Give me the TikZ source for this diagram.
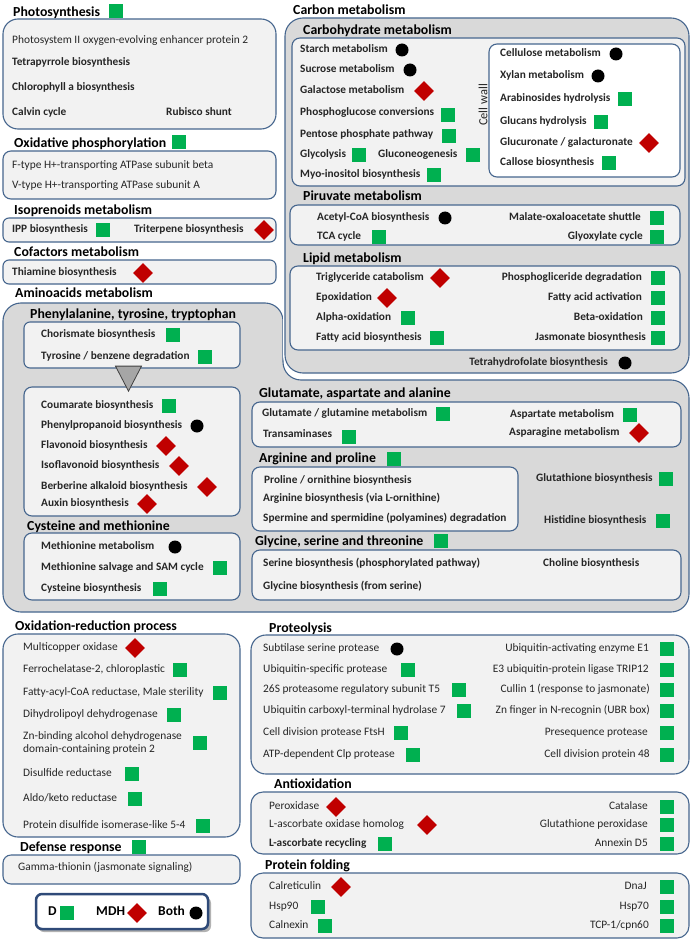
\documentclass[tikz,border=0pt]{standalone}
\usepackage{fontspec}
\setmainfont{Carlito}
\usetikzlibrary{shapes.geometric}
\definecolor{mygreen}{HTML}{00B050}
\definecolor{myred}{HTML}{C00000}
\definecolor{bord}{HTML}{46668E}
\definecolor{fillA}{HTML}{F2F2F2}
\definecolor{fillB}{HTML}{D9D9D9}
\definecolor{txt}{HTML}{262626}
\definecolor{legb}{HTML}{2F4A78}
\tikzset{
  item/.style={font=\fontsize{11.4}{13}\selectfont, inner sep=0pt, anchor=mid west, text=txt},
  bitem/.style={item, font=\fontsize{11.3}{13}\selectfont\bfseries},
  ritem/.style={item, anchor=mid east},
  rbitem/.style={bitem, anchor=mid east},
  head/.style={font=\fontsize{13.8}{16}\selectfont\bfseries, inner sep=0pt, anchor=mid west, text=black},
  leg/.style={bitem, font=\fontsize{13.5}{15}\selectfont\bfseries, text=black},
  gsq/.style={rectangle, fill=mygreen, minimum size=14pt, inner sep=0pt},
  rdia/.style={diamond, fill=myred, minimum size=20pt, inner sep=0pt},
  bdot/.style={circle, fill=black, minimum size=13pt, inner sep=0pt},
  boxA/.style={draw=bord, fill=fillA, line width=1.1pt},
  boxW/.style={draw=bord, fill=white, line width=1.1pt},
  boxO/.style={draw=bord, fill=fillB, line width=1.1pt, preaction={draw=white, line width=4pt}},
}
\begin{document}
\begin{tikzpicture}[x=1pt,y=-1pt]
\useasboundingbox (0,0) rectangle (696,941);
\fill[white] (0,0) rectangle (696,941);

% ---------------- Photosynthesis
\node[head] (hph) at (13,14) {Photosynthesis};
\node[gsq] (mph) at (115.5,11) {};
\draw[boxA, rounded corners=15pt] (3,19) rectangle (276,129);
\node[item] (ph1) at (12,41) {Photosystem II oxygen-evolving enhancer protein 2};
\node[bitem] (ph2) at (12,63) {Tetrapyrrole biosynthesis};
\node[bitem] (ph3) at (12,88) {Chlorophyll a biosynthesis};
\node[bitem] (ph4) at (12,113) {Calvin cycle};
\node[bitem] (ph5) at (166,113) {Rubisco shunt};

% ---------------- Oxidative phosphorylation
\node[head] (hox) at (14,145) {Oxidative phosphorylation};
\node[gsq] (mox) at (178.5,142) {};
\draw[boxA, rounded corners=8pt] (3,151) rectangle (276,199);
\node[item] (ox1) at (12,166) {F-type H+-transporting ATPase subunit beta};
\node[item] (ox2) at (12,186) {V-type H+-transporting ATPase subunit A};

% ---------------- Isoprenoids
\node[head] (hiso) at (14,212) {Isoprenoids metabolism};
\draw[boxA, rounded corners=6pt] (3,218) rectangle (276,242);
\node[bitem] (iso1) at (12,230) {IPP biosynthesis};
\node[gsq] (miso1) at (103,230) {};
\node[bitem] (iso2) at (134,230) {Triterpene biosynthesis};
\node[rdia] (miso2) at (264,230) {};

% ---------------- Cofactors
\node[head] (hcof) at (14,254) {Cofactors metabolism};
\draw[boxA, rounded corners=6pt] (3,260) rectangle (276,284);
\node[bitem] (cof1) at (12,273) {Thiamine biosynthesis};
\node[rdia] (mcof1) at (143,273) {};

% ---------------- Aminoacids metabolism (outline)
\node[head] (haa) at (15,295) {Aminoacids metabolism};
\draw[boxO, rounded corners=18pt] (3,612) -- (3,303) -- (283,303) -- (283,380) -- (689,380) -- (689,612) -- cycle;

% ---------------- Carbon metabolism
\node[head] (hcm) at (293,12) {Carbon metabolism};
\draw[boxO, rounded corners=18pt] (285,18) rectangle (689,373);

\node[head] (hch) at (303,32) {Carbohydrate metabolism};
\draw[boxA, rounded corners=8pt] (292,38) rectangle (685,186);
\node[bitem] (ch1) at (300,50) {Starch metabolism};
\node[bdot] (mch1) at (402,50) {};
\node[bitem] (ch2) at (300,70) {Sucrose metabolism};
\node[bdot] (mch2) at (410,70) {};
\node[bitem] (ch3) at (300,91) {Galactose metabolism};
\node[rdia] (mch3) at (424,91) {};
\node[bitem] (ch4) at (300,113) {Phosphoglucose conversions};
\node[gsq] (mch4) at (448,115) {};
\node[bitem] (ch5) at (300,135) {Pentose phosphate pathway};
\node[gsq] (mch5) at (449,136) {};
\node[bitem] (ch6) at (300,155) {Glycolysis};
\node[gsq] (mch6) at (359,155) {};
\node[bitem] (ch7) at (378,155) {Gluconeogenesis};
\node[gsq] (mch7) at (473,155) {};
\node[bitem] (ch8) at (300,175) {Myo-inositol biosynthesis};
\node[gsq] (mch8) at (434,175) {};
\node[font=\fontsize{12.5}{14}\selectfont, text=txt, rotate=90, inner sep=0pt] (cw) at (483,105) {Cell wall};
\draw[boxW, rounded corners=8pt] (489,44) rectangle (680,177);
\node[bitem] (cw1) at (500,54) {Cellulose metabolism};
\node[bdot] (mcw1) at (616,54) {};
\node[bitem] (cw2) at (500,76) {Xylan metabolism};
\node[bdot] (mcw2) at (598,76) {};
\node[bitem] (cw3) at (500,99) {Arabinosides hydrolysis};
\node[gsq] (mcw3) at (625,99) {};
\node[bitem] (cw4) at (500,122) {Glucans hydrolysis};
\node[gsq] (mcw4) at (601,122) {};
\node[bitem] (cw5) at (500,143) {Glucuronate / galacturonate};
\node[rdia] (mcw5) at (649,143) {};
\node[bitem] (cw6) at (500,163) {Callose biosynthesis};
\node[gsq] (mcw6) at (609,163) {};

\node[head] (hpy) at (303,198) {Piruvate metabolism};
\draw[boxA, rounded corners=8pt] (290,205) rectangle (680,245);
\node[bitem] (py1) at (317,218) {Acetyl-CoA biosynthesis};
\node[bdot] (mpy1) at (445,218) {};
\node[bitem] (py2) at (317,237) {TCA cycle};
\node[gsq] (mpy2) at (379,237) {};
\node[rbitem] (py3) at (641,218) {Malate-oxaloacetate shuttle};
\node[gsq] (mpy3) at (657,218) {};
\node[rbitem] (py4) at (643,237) {Glyoxylate cycle};
\node[gsq] (mpy4) at (657,237) {};

\node[head] (hli) at (303,260) {Lipid metabolism};
\draw[boxA, rounded corners=8pt] (290,266) rectangle (680,350);
\node[bitem] (li1) at (316,278) {Triglyceride catabolism};
\node[rdia] (mli1) at (440,278) {};
\node[bitem] (li2) at (316,298) {Epoxidation};
\node[rdia] (mli2) at (387,298) {};
\node[bitem] (li3) at (316,318) {Alpha-oxidation};
\node[gsq] (mli3) at (408,318) {};
\node[bitem] (li4) at (316,338) {Fatty acid biosynthesis};
\node[gsq] (mli4) at (437,338) {};
\node[rbitem] (li5) at (642,278) {Phosphogliceride degradation};
\node[gsq] (mli5) at (658,278) {};
\node[rbitem] (li6) at (642,298) {Fatty acid activation};
\node[gsq] (mli6) at (658,298) {};
\node[rbitem] (li7) at (643,318) {Beta-oxidation};
\node[gsq] (mli7) at (658,318) {};
\node[rbitem] (li8) at (646,338) {Jasmonate biosynthesis};
\node[gsq] (mli8) at (658,338) {};
\node[rbitem] (thf) at (608,363) {Tetrahydrofolate biosynthesis};
\node[bdot] (mthf) at (625,363) {};

% ---------------- Aminoacids inner
\node[head] (hphe) at (30,316) {Phenylalanine, tyrosine, tryptophan};
\draw[boxA, rounded corners=6pt] (24,322) rectangle (240,368);
\node[bitem] (phe1) at (41,335) {Chorismate biosynthesis};
\node[gsq] (mphe1) at (173,335) {};
\node[bitem] (phe2) at (41,357) {Tyrosine / benzene degradation};
\node[gsq] (mphe2) at (205,357) {};
\draw[boxA, rounded corners=8pt] (24,387) rectangle (240,516);
\node[draw=black!75, fill=black!35, line width=0.8pt, isosceles triangle, isosceles triangle apex angle=55, shape border rotate=-90, minimum width=26pt, minimum height=25pt, inner sep=0pt, anchor=apex] (tri) at (128.5,392) {};
\node[bitem] (phe3) at (41,406) {Coumarate biosynthesis};
\node[gsq] (mphe3) at (169,406) {};
\node[bitem] (phe4) at (41,426) {Phenylpropanoid biosynthesis};
\node[bdot] (mphe4) at (197,426) {};
\node[bitem] (phe5) at (41,446) {Flavonoid biosynthesis};
\node[rdia] (mphe5) at (166,446) {};
\node[bitem] (phe6) at (41,466) {Isoflavonoid biosynthesis};
\node[rdia] (mphe6) at (179,466) {};
\node[bitem] (phe7) at (41,487) {Berberine alkaloid biosynthesis};
\node[rdia] (mphe7) at (207,487) {};
\node[bitem] (phe8) at (41,504) {Auxin biosynthesis};
\node[rdia] (mphe8) at (147,504) {};

\node[head] (hcy) at (27,528) {Cysteine and methionine};
\draw[boxA, rounded corners=8pt] (24,533) rectangle (240,600);
\node[bitem] (cy1) at (41,547) {Methionine metabolism};
\node[bdot] (mcy1) at (175,547) {};
\node[bitem] (cy2) at (41,568) {Methionine salvage and SAM cycle};
\node[gsq] (mcy2) at (220,568) {};
\node[bitem] (cy3) at (41,589) {Cysteine biosynthesis};
\node[gsq] (mcy3) at (160,589) {};

\node[head] (hgl) at (259,395) {Glutamate, aspartate and alanine};
\draw[boxA, rounded corners=8pt] (252,402) rectangle (681,447);
\node[bitem] (gl1) at (262,414) {Glutamate / glutamine metabolism};
\node[gsq] (mgl1) at (443,414) {};
\node[bitem] (gl2) at (263,435) {Transaminases};
\node[gsq] (mgl2) at (349,437) {};
\node[bitem] (gl3) at (510,415) {Aspartate metabolism};
\node[gsq] (mgl3) at (630,415) {};
\node[bitem] (gl4) at (509,433) {Asparagine metabolism};
\node[rdia] (mgl4) at (639,433) {};

\node[head] (har) at (259,460) {Arginine and proline};
\node[gsq] (mar) at (394,459) {};
\draw[boxA, rounded corners=8pt] (252,467) rectangle (518,531);
\node[bitem] (ar1) at (264,481) {Proline / ornithine biosynthesis};
\node[bitem] (ar2) at (263,499) {Arginine biosynthesis (via L-ornithine)};
\node[bitem] (ar3) at (263,519) {Spermine and spermidine (polyamines) degradation};
\node[bitem] (gt1) at (536,479) {Glutathione biosynthesis};
\node[gsq] (mgt1) at (666,479) {};
\node[bitem] (hi1) at (544,521) {Histidine biosynthesis};
\node[gsq] (mhi1) at (663,521) {};

\node[head] (hgs) at (255,543) {Glycine, serine and threonine};
\node[gsq] (mgs) at (441,541) {};
\draw[boxA, rounded corners=8pt] (252,550) rectangle (681,600);
\node[bitem] (gs1) at (263,564) {Serine biosynthesis (phosphorylated pathway)};
\node[bitem] (gs2) at (543,564) {Choline biosynthesis};
\node[bitem] (gs3) at (263,587) {Glycine biosynthesis (from serine)};

% ---------------- Oxidation-reduction
\node[head] (hor) at (15,628) {Oxidation-reduction process};
\draw[boxA, rounded corners=15pt] (3,634) rectangle (240,837);
\node[item] (or1) at (23,648) {Multicopper oxidase};
\node[rdia] (mor1) at (135,648) {};
\node[item] (or2) at (23,670) {Ferrochelatase-2, chloroplastic};
\node[gsq] (mor2) at (180,670) {};
\node[item] (or3) at (23,693) {Fatty-acyl-CoA reductase, Male sterility};
\node[gsq] (mor3) at (220,693) {};
\node[item] (or4) at (23,715) {Dihydrolipoyl dehydrogenase};
\node[gsq] (mor4) at (174,715) {};
\node[item, font=\fontsize{11.4}{13}\selectfont, align=left, anchor=west] (or5) at (23,743) {Zn-binding alcohol dehydrogenase\\domain-containing protein 2};
\node[gsq] (mor5) at (200,743) {};
\node[item] (or6) at (23,774) {Disulfide reductase};
\node[gsq] (mor6) at (132,774) {};
\node[item] (or7) at (23,799) {Aldo/keto reductase};
\node[gsq] (mor7) at (135,799) {};
\node[item] (or8) at (23,826) {Protein disulfide isomerase-like 5-4};
\node[gsq] (mor8) at (203,826) {};

% ---------------- Defense response
\node[head] (hdf) at (20,849) {Defense response};
\node[gsq] (mdf) at (139,847) {};
\draw[boxA, rounded corners=8pt] (3,855) rectangle (240,884);
\node[item] (df1) at (18,868) {Gamma-thionin (jasmonate signaling)};

% ---------------- Legend
\fill[black!30, rounded corners=6pt] (38,897) rectangle (211,932);
\draw[draw=legb, fill=white, line width=2.5pt, rounded corners=6pt] (36,894) rectangle (208,929);
\node[leg] (lgD) at (48,913) {D};
\node[gsq] (mlgD) at (67,913) {};
\node[leg] (lgM) at (96,913) {MDH};
\node[rdia] (mlgM) at (137,913) {};
\node[leg] (lgB) at (158,913) {Both};
\node[bdot] (mlgB) at (196,913) {};

% ---------------- Proteolysis
\node[head] (hpr) at (269,630) {Proteolysis};
\draw[boxA, rounded corners=15pt] (251,635) rectangle (689,774);
\node[item] (pr1) at (263,649) {Subtilase serine protease};
\node[bdot] (mpr1) at (397,649) {};
\node[item] (pr2) at (263,670) {Ubiquitin-specific protease};
\node[gsq] (mpr2) at (408,670) {};
\node[item] (pr3) at (263,690) {26S proteasome regulatory subunit T5};
\node[gsq] (mpr3) at (459,690) {};
\node[item] (pr4) at (263,711) {Ubiquitin carboxyl-terminal hydrolase 7};
\node[gsq] (mpr4) at (464,711) {};
\node[item] (pr5) at (263,733) {Cell division protease FtsH};
\node[gsq] (mpr5) at (401,733) {};
\node[item] (pr6) at (263,755) {ATP-dependent Clp protease};
\node[gsq] (mpr6) at (413,755) {};
\node[ritem] (pr7) at (649,649) {Ubiquitin-activating enzyme E1};
\node[gsq] (mpr7) at (667,649) {};
\node[ritem] (pr8) at (649,670) {E3 ubiquitin-protein ligase TRIP12};
\node[gsq] (mpr8) at (667,670) {};
\node[ritem] (pr9) at (650,690) {Cullin 1 (response to jasmonate)};
\node[gsq] (mpr9) at (667,690) {};
\node[ritem] (pr10) at (650,711) {Zn finger in N-recognin (UBR box)};
\node[gsq] (mpr10) at (667,711) {};
\node[ritem] (pr11) at (648,733) {Presequence protease};
\node[gsq] (mpr11) at (667,733) {};
\node[ritem] (pr12) at (650,755) {Cell division protein 48};
\node[gsq] (mpr12) at (667,755) {};

% ---------------- Antioxidation
\node[head] (han) at (274,786) {Antioxidation};
\draw[boxA, rounded corners=12pt] (251,792) rectangle (689,854);
\node[item] (an1) at (269,807) {Peroxidase};
\node[rdia] (man1) at (336,807) {};
\node[item] (an2) at (269,825) {L-ascorbate oxidase homolog};
\node[rdia] (man2) at (427,825) {};
\node[bitem] (an3) at (269,844) {L-ascorbate recycling};
\node[gsq] (man3) at (385,844) {};
\node[ritem] (an4) at (648,807) {Catalase};
\node[gsq] (man4) at (667,807) {};
\node[ritem] (an5) at (648,825) {Glutathione peroxidase};
\node[gsq] (man5) at (667,825) {};
\node[ritem] (an6) at (648,844) {Annexin D5};
\node[gsq] (man6) at (667,844) {};

% ---------------- Protein folding
\node[head] (hpf) at (265,867) {Protein folding};
\draw[boxA, rounded corners=12pt] (251,873) rectangle (689,938);
\node[item] (pf1) at (269,887) {Calreticulin};
\node[rdia] (mpf1) at (341,887) {};
\node[item] (pf2) at (269,907) {Hsp90};
\node[gsq] (mpf2) at (318,907) {};
\node[item] (pf3) at (269,926) {Calnexin};
\node[gsq] (mpf3) at (325,926) {};
\node[ritem] (pf4) at (647,887) {DnaJ};
\node[gsq] (mpf4) at (667,887) {};
\node[ritem] (pf5) at (649,907) {Hsp70};
\node[gsq] (mpf5) at (667,907) {};
\node[ritem] (pf6) at (649,926) {TCP-1/cpn60};
\node[gsq] (mpf6) at (667,926) {};
\end{tikzpicture}
\end{document}
